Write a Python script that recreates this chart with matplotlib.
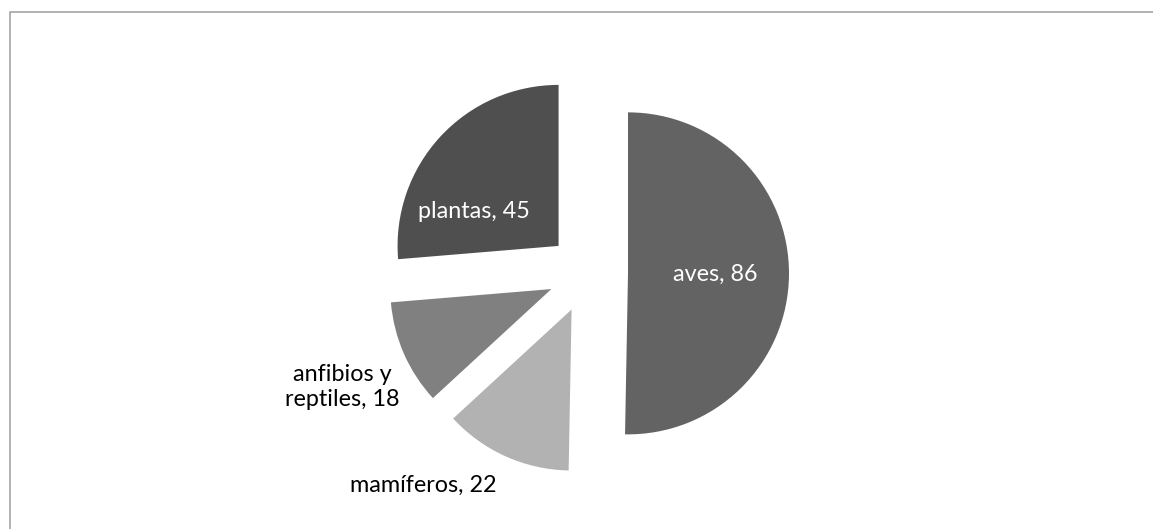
import matplotlib.pyplot as plt
from matplotlib.patches import Rectangle

# data
labels = ["aves", "mamíferos", "anfibios y\nreptiles", "plantas"]
values = [86, 22, 18, 45]
colors = ["#636363", "#b2b2b2", "#808080", "#4f4f4f"]
text_colors = ["white", "black", "black", "white"]

W, H = 1153, 529
fig = plt.figure(figsize=(W / 100, H / 100), dpi=100)
ax = fig.add_axes([0, 0, 1, 1])

# pixel-like data space, y up
cx, cy = 588, H - 273
r = 161
wedges, _ = ax.pie(values, colors=colors, startangle=90, counterclock=False,
                   center=(cx, cy), radius=r, explode=[40] * 4,
                   wedgeprops=dict(linewidth=0))

ax.set_xlim(0, W)
ax.set_ylim(0, H)
ax.set_aspect("equal")
ax.axis("off")

# label spots (pixel coords from top-left)
label_pos = [(715, 274), (423, 485), (342, 387), (474, 212)]
for lab, v, tc, (x, y) in zip(labels, values, text_colors, label_pos):
    ax.text(x, H - y, f"{lab}, {v}", color=tc, fontsize=16.8,
            family="Lato", ha="center", va="center", linespacing=1.2)

# chart frame
ax.add_patch(Rectangle((9.5, -5), W, H - 11.5 + 5, fill=False,
                       edgecolor="#a6a6a6", linewidth=1.2, clip_on=False))

fig.savefig("out.png", dpi=100)
